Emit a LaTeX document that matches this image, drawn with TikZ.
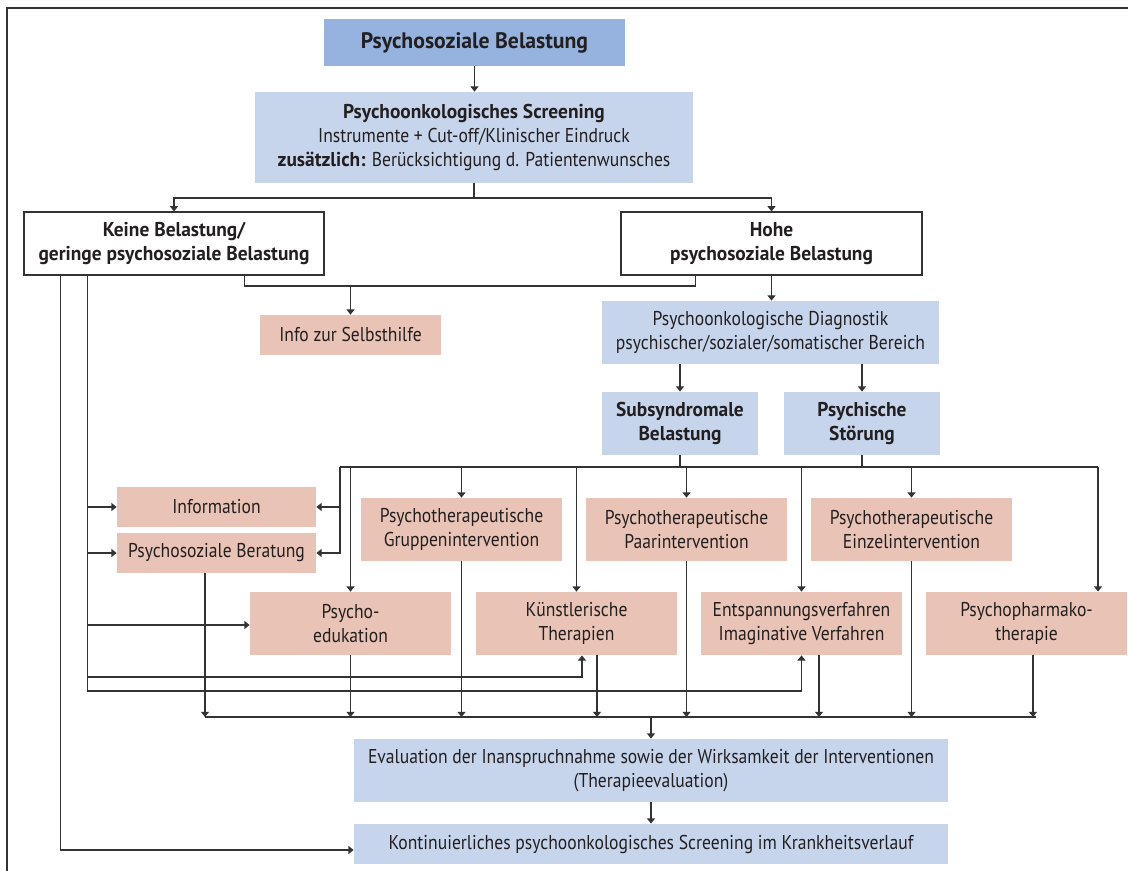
\documentclass[tikz,border=0pt]{standalone}
\usepackage{fontspec}
\setmainfont{PT Sans}[FakeStretch=0.88,BoldFeatures={FakeStretch=0.97}]
\usepackage{tikz}
\usetikzlibrary{arrows.meta,positioning}
\definecolor{linec}{HTML}{333333}
\definecolor{textc}{HTML}{231F20}
\definecolor{topc}{HTML}{95B3DE}
\definecolor{bluec}{HTML}{C6D5EC}
\definecolor{pinkc}{HTML}{E9C4B6}
\tikzset{
  ar/.style={-{Triangle[length=2.6pt,width=4pt]},linec,line width=0.6pt},
  ln/.style={linec,line width=0.6pt},
  sz/.style 2 args={minimum width=#1*0.5pt,minimum height=#2*0.5pt},
  box/.style={inner sep=0pt,align=center,text=textc,font=\fontsize{10}{12}\selectfont},
  bluebox/.style={box,fill=bluec},
  pinkbox/.style={box,fill=pinkc},
  boldbox/.style={box,fill=bluec,font=\fontsize{10}{12}\selectfont\bfseries},
  whitebox/.style={box,draw=linec,line width=0.6pt,fill=white,font=\fontsize{10}{12}\selectfont\bfseries},
  topbox/.style={box,fill=topc,font=\fontsize{11.2}{14}\selectfont\bfseries}
}
\begin{document}
\begin{tikzpicture}[x=0.5pt,y=-0.5pt]
\useasboundingbox (0,0) rectangle (1128,871);
\draw[ln] (1128,8) -- (7,8) -- (7,871);
\node[topbox,sz={301}{47}] (belast) at (474.5,42.5) {Psychosoziale Belastung};
\node[bluebox,sz={438}{91}] (screen) at (474,137.5) {\textbf{Psychoonkologisches Screening}\\Instrumente + Cut-off/Klinischer Eindruck\\\textbf{zusätzlich:} Berücksichtigung d. Patientenwunsches};
\node[whitebox,sz={300}{63}] (keine) at (174,243.5) {Keine Belastung/\\geringe psychosoziale Belastung};
\node[whitebox,sz={301}{63}] (hohe) at (771.5,243.5) {Hohe\\psychosoziale Belastung};
\node[pinkbox,sz={181}{40}] (selbst) at (350.5,335) {Info zur Selbsthilfe};
\node[bluebox,sz={337}{63}] (diag) at (770.5,332.5) {Psychoonkologische Diagnostik\\psychischer/sozialer/somatischer Bereich};
\node[boldbox,sz={156}{63}] (subsyn) at (680,423.5) {Subsyndromale\\Belastung};
\node[boldbox,sz={156}{63}] (stoer) at (862,423.5) {Psychische\\Störung};
\node[pinkbox,sz={199}{40}] (info) at (216.5,507) {Information};
\node[pinkbox,sz={199}{40}] (berat) at (216.5,553) {Psychosoziale Beratung};
\node[pinkbox,sz={201}{63}] (gruppe) at (461.5,529.5) {Psychotherapeutische\\Gruppenintervention};
\node[pinkbox,sz={201}{63}] (paar) at (686.5,529.5) {Psychotherapeutische\\Paarintervention};
\node[pinkbox,sz={201}{63}] (einzel) at (911.5,529.5) {Psychotherapeutische\\Einzelintervention};
\node[pinkbox,sz={201}{63}] (edu) at (350.5,623.5) {Psycho-\\edukation};
\node[pinkbox,sz={201}{63}] (kunst) at (576.5,623.5) {Künstlerische\\Therapien};
\node[pinkbox,sz={201}{63}] (entsp) at (801.5,623.5) {Entspannungsverfahren\\Imaginative Verfahren};
\node[pinkbox,sz={201}{63}] (pharma) at (1026.5,623.5) {Psychopharmako-\\therapie};
\node[bluebox,sz={594}{63}] (eval) at (651,770.5) {Evaluation der Inanspruchnahme sowie der Wirksamkeit der Interventionen\\(Therapieevaluation)};
\node[bluebox,sz={594}{40}] (kont) at (651,844) {Kontinuierliches psychoonkologisches Screening im Krankheitsverlauf};

\coordinate (sb) at (474,198);
\coordinate (hb) at (0,286);
\coordinate (tb) at (0,467);
\coordinate (tl) at (340,467);
\coordinate (tr) at (1098,467);
\coordinate (lk) at (0,677);
\coordinate (le) at (0,691);
\coordinate (bb) at (0,717);
\coordinate (br) at (1036,717);
\coordinate (kl) at ([xshift=18.5pt]keine.south west);
\coordinate (km) at ([xshift=32pt]keine.south west);
\coordinate (kr) at ([xshift=-40pt]keine.south east);
\coordinate (hl) at ([xshift=-38pt]hohe.south);
\coordinate (ku) at ([xshift=2.75pt]kunst.south);
\coordinate (bu) at ([xshift=-5.75pt]berat.south);
\coordinate (ko) at ([xshift=10.25pt]kunst.south);
\coordinate (eo) at ([xshift=8.75pt]entsp.south);
\coordinate (po) at ([xshift=3.25pt]pharma.south);

\draw[ar] (belast.south) -- (belast.south |- screen.north);
\draw[ar] (screen.south) -- (sb) -| (keine.north);
\draw[ar] (sb) -| (hohe.north);
\draw[ln] (kr) -- (kr |- hb) -| (hl);
\draw[ar] (selbst.north |- hb) -- (selbst.north);
\draw[ar] (hohe.south) -- (hohe.south |- diag.north);
\draw[ar] (diag.south -| subsyn) -- (subsyn.north);
\draw[ar] (diag.south -| stoer) -- (stoer.north);

\draw[ln] (subsyn.south) -- (subsyn.south |- tb);
\draw[ln] (stoer.south) -- (stoer.south |- tb);
\draw[ln] (tl) -- (tr);
\draw[ar] (tl) |- (info.east);
\draw[ar] (tl) |- (berat.east);
\draw[ar] (edu.north |- tb) -- (edu.north);
\draw[ar] (gruppe.north |- tb) -- (gruppe.north);
\draw[ar] (kunst.north |- tb) -- (kunst.north);
\draw[ar] (paar.north |- tb) -- (paar.north);
\draw[ar] (entsp.north |- tb) -- (entsp.north);
\draw[ar] (einzel.north |- tb) -- (einzel.north);
\draw[ar] (tr) -- (tr |- pharma.north);

\draw[ar] (km) |- (info.west);
\draw[ar] (km) |- (berat.west);
\draw[ar] (km) |- ([yshift=-0.75pt]edu.west);
\draw[ar] (km) |- (lk -| ku) -- (ku);
\draw[ar] (km) |- (le -| entsp.south) -- (entsp.south);
\draw[ar] (kl) |- ([yshift=-3pt]kont.west);

\draw[ln] (bu |- bb) -- (br);
\draw[ar] (bu) -- (bu |- bb);
\draw[ar] (edu.south) -- (edu.south |- bb);
\draw[ar] (gruppe.south) -- (gruppe.south |- bb);
\draw[ar] (ko) -- (ko |- bb);
\draw[ar] (paar.south) -- (paar.south |- bb);
\draw[ar] (eo) -- (eo |- bb);
\draw[ar] (einzel.south) -- (einzel.south |- bb);
\draw[ar] (po) -- (po |- bb);
\draw[ar] (eval.north |- bb) -- (eval.north);
\draw[ar] (eval.south) -- (kont.north);
\end{tikzpicture}
\end{document}
